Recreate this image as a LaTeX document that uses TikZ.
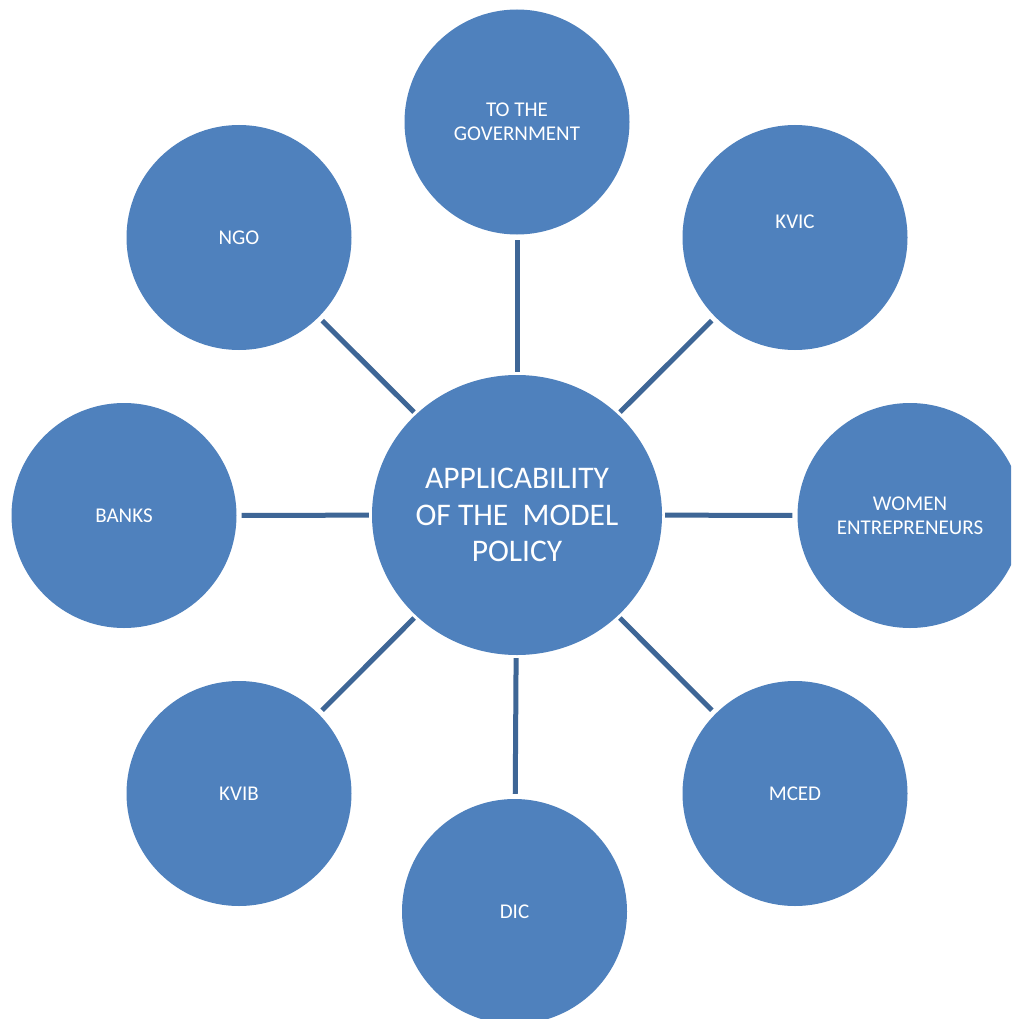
\documentclass[tikz,border=0pt]{standalone}
\usepackage{fontspec}
\setmainfont{Carlito}
\usetikzlibrary{shapes.geometric}
\definecolor{bfill}{HTML}{4F81BD}
\definecolor{bline}{HTML}{3E6696}
\begin{document}
\begin{tikzpicture}[x=1pt,y=-1pt,
  bubble/.style={circle,fill=bfill,minimum size=225pt,inner sep=2pt,text=white,align=center,font=\fontsize{21}{24}\selectfont},
  bubbletxt/.style={inner sep=0pt,text=white,align=center,font=\fontsize{21}{24}\selectfont},
  hub/.style={ellipse,fill=bfill,minimum width=290pt,minimum height=280pt,inner sep=0pt},
  hubtxt/.style={inner sep=0pt,text=white,align=center,font=\fontsize{31.5}{36.5}\selectfont},
  conn/.style={draw=bline,line width=5pt,shorten <=3pt,shorten >=5pt}]
\useasboundingbox (0,0) rectangle (1011,1019);
\clip (0,0) rectangle (1011,1019);
\fill[white] (0,0) rectangle (1011,1019);
% hub
\node[hub] (c) at (517,515) {};
\node[hubtxt] (ctxt) at (c.center) {APPLICABILITY\\OF THE\ \ MODEL\\POLICY};
% satellites
\node[bubble] (gov) at (517,122) {TO THE\\GOVERNMENT};
\node[bubble] (kvic) at (795,237.5) {};
\node[bubbletxt] (kvictxt) at ([yshift=16pt]kvic.center) {KVIC};
\node[bubble] (women) at (910,515.5) {WOMEN\\ENTREPRENEURS};
\node[bubble] (mced) at (795,793.5) {MCED};
\node[bubble] (dic) at (514.5,911.5) {DIC};
\node[bubble] (kvib) at (239,793.5) {KVIB};
\node[bubble] (banks) at (124,515.5) {BANKS};
\node[bubble] (ngo) at (239,237.5) {NGO};
% connectors
\foreach \t in {gov,kvic,women,mced,dic,kvib,banks,ngo}
  \draw[conn] (c) -- (\t);
\end{tikzpicture}
\end{document}
